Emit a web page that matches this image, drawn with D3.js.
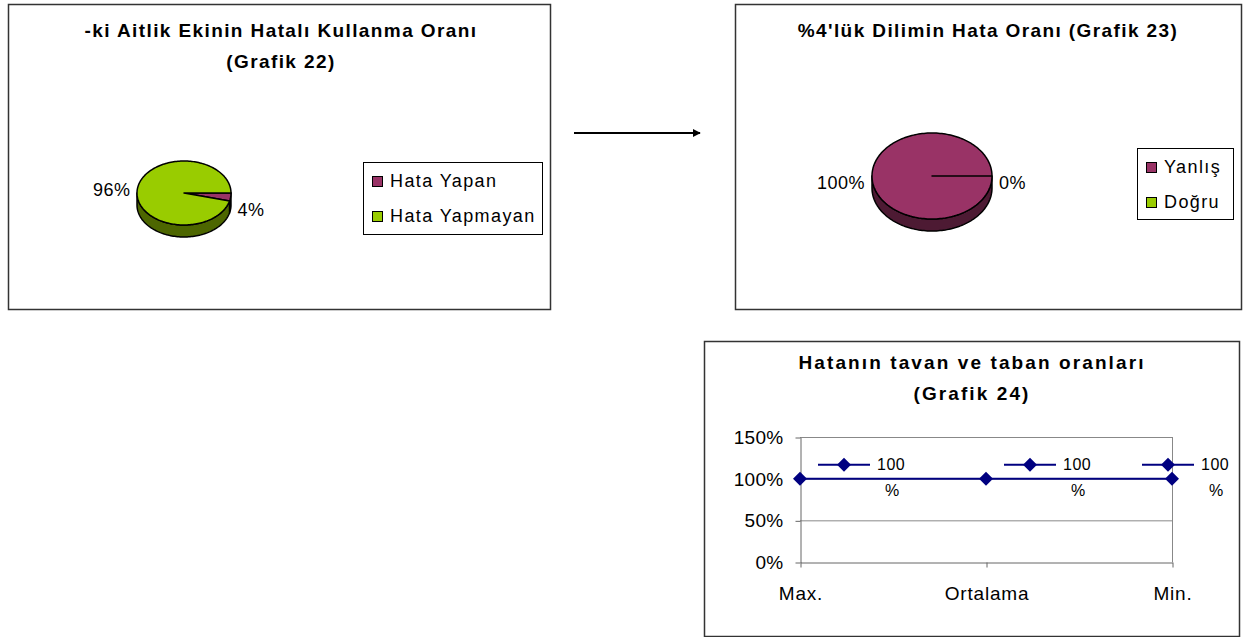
<!DOCTYPE html>
<html>
<head>
<meta charset="utf-8">
<script src="https://cdn.jsdelivr.net/npm/d3@7"></script>
<style>
body { margin: 0; background: #fff; }
svg { display: block; font-family: "Liberation Sans", Arial, sans-serif; }
.title { font-weight: bold; font-size: 19px; text-anchor: middle; }
</style>
</head>
<body>
<script>
// Grafik 22
var pie1Labels = ['Hata Yapan', 'Hata Yapmayan'];
var pie1Values = [4, 96];
// Grafik 23
var pie2Labels = ['Yanlış', 'Doğru'];
var pie2Values = [100, 0];
// Grafik 24
var lineCategories = ['Max.', 'Ortalama', 'Min.'];
var lineValues = [1, 1, 1];
var yTicks = [0, 0.5, 1, 1.5];

var topColors = ['#993366', '#99cc00'];
var sideColors = ['#4d1a33', '#4d6600'];

var svg = d3.select('body').append('svg')
    .attr('width', 1247)
    .attr('height', 637);

var pct = d3.format('.0%');

function panel(x0, y0, x1, y1) {
    svg.append('rect')
        .attr('x', x0 + 0.5).attr('y', y0 + 0.5)
        .attr('width', x1 - x0).attr('height', y1 - y0)
        .attr('fill', '#fff')
        .attr('stroke', '#333')
        .attr('stroke-width', 1.5);
}

function title(x, y, lines, spacing) {
    lines.forEach(function (t, i) {
        svg.append('text')
            .attr('class', 'title')
            .attr('x', x)
            .attr('y', y + i * 31)
            .attr('dy', '0.35em')
            .style('letter-spacing', spacing + 'px')
            .text(t);
    });
}

function pie3d(o) {
    var g = svg.append('g');
    var arcs = d3.pie().sort(null)
        .startAngle(Math.PI / 2)
        .endAngle(Math.PI / 2 + 2 * Math.PI)(o.values);
    var sum = d3.sum(o.values);

    function pt(t, dy) {
        return [o.cx + o.rx * Math.cos(t), o.cy + o.ry * Math.sin(t) + (dy || 0)];
    }
    function samples(a, b) {
        var n = Math.max(2, Math.ceil((b - a) / 0.03));
        return d3.range(n + 1).map(function (i) { return a + (b - a) * i / n; });
    }
    var line = d3.line();

    // sides (front half only)
    arcs.forEach(function (d, i) {
        var t0 = d.startAngle - Math.PI / 2, t1 = d.endAngle - Math.PI / 2;
        var s0 = Math.max(t0, 0), s1 = Math.min(t1, Math.PI);
        if (s1 <= s0) return;
        var ts = samples(s0, s1);
        var pts = ts.map(function (t) { return pt(t); })
            .concat(ts.slice().reverse().map(function (t) { return pt(t, o.depth); }));
        g.append('path')
            .attr('d', line(pts) + 'Z')
            .attr('fill', sideColors[i])
            .attr('stroke', '#000')
            .attr('stroke-width', 1.5)
            .attr('stroke-linejoin', 'round');
    });

    // tops
    arcs.forEach(function (d, i) {
        var t0 = d.startAngle - Math.PI / 2, t1 = d.endAngle - Math.PI / 2;
        if (t1 <= t0) return;
        var pts = [[o.cx, o.cy]].concat(samples(t0, t1).map(function (t) { return pt(t); }));
        g.append('path')
            .attr('d', line(pts) + 'Z')
            .attr('fill', topColors[i])
            .attr('stroke', '#000')
            .attr('stroke-width', 1.5)
            .attr('stroke-linejoin', 'round');
    });

    // percentage labels
    arcs.forEach(function (d, i) {
        var t = (d.startAngle + d.endAngle) / 2 - Math.PI / 2;
        var right = Math.cos(t) >= 0;
        g.append('text')
            .attr('x', o.cx + Math.cos(t) * (o.rx + 7))
            .attr('y', o.cy + Math.sin(t) * o.ry * 2.5 + 7)
            .attr('dy', '0.35em')
            .attr('text-anchor', right ? 'start' : 'end')
            .style('font-size', '18px')
            .style('letter-spacing', '0.5px')
            .text(pct(d.data / sum));
    });

    // legend
    var lg = svg.append('g');
    lg.append('rect')
        .attr('x', o.legend.x + 0.5).attr('y', o.legend.y + 0.5)
        .attr('width', o.legend.w).attr('height', o.legend.h)
        .attr('fill', '#fff').attr('stroke', '#000');
    var item = lg.selectAll('g.item')
        .data(o.labels)
        .enter().append('g')
        .attr('class', 'item')
        .attr('transform', function (d, i) {
            return 'translate(' + (o.legend.x + 9) + ',' + (o.legend.y + 19 + i * 35) + ')';
        });
    item.append('rect')
        .attr('x', 0.5).attr('y', -4.5)
        .attr('width', 10).attr('height', 10)
        .attr('fill', function (d, i) { return topColors[i]; })
        .attr('stroke', '#000');
    item.append('text')
        .attr('x', 18)
        .attr('y', 0)
        .attr('dy', '0.35em')
        .style('font-size', '18px')
        .style('letter-spacing', '1.4px')
        .text(function (d) { return d; });
}

// ---- panel 1
panel(8, 4, 550, 309);
title(281, 30, ['-ki Aitlik Ekinin Hatalı Kullanma Oranı', '(Grafik 22)'], 1.4);
pie3d({
    cx: 184, cy: 193, rx: 47, ry: 32, depth: 12,
    values: pie1Values, labels: pie1Labels,
    legend: { x: 363, y: 162, w: 179, h: 72 }
});

// arrow between panels
var defs = svg.append('defs');
defs.append('marker')
    .attr('id', 'arrow')
    .attr('viewBox', '0 0 10 10')
    .attr('refX', 9).attr('refY', 5)
    .attr('markerWidth', 4).attr('markerHeight', 4)
    .attr('orient', 'auto')
    .append('path')
    .attr('d', 'M0,0L10,5L0,10Z')
    .attr('fill', '#000');
svg.append('line')
    .attr('x1', 574).attr('x2', 700)
    .attr('y1', 133).attr('y2', 133)
    .attr('stroke', '#000')
    .attr('stroke-width', 2)
    .attr('marker-end', 'url(#arrow)');

// ---- panel 2
panel(735, 4, 1241, 309);
title(988, 30, ["%4'lük Dilimin Hata Oranı (Grafik 23)"], 1.4);
pie3d({
    cx: 932, cy: 176, rx: 60, ry: 43, depth: 12,
    values: pie2Values, labels: pie2Labels,
    legend: { x: 1137, y: 148, w: 96, h: 71 }
});

// ---- panel 3 (line chart)
panel(704, 341, 1239, 636);
title(972, 362, ['Hatanın tavan ve taban oranları', '(Grafik 24)'], 2.1);

var x = d3.scalePoint().domain(lineCategories).range([800, 1172]);
var y = d3.scaleLinear().domain([0, 1.5]).range([562, 437]);
var lc = svg.append('g');

lc.selectAll('line.grid')
    .data(yTicks.filter(function (t) { return t > 0; }))
    .enter().append('line')
    .attr('class', 'grid')
    .attr('x1', 800).attr('x2', 1172)
    .attr('y1', function (d) { return y(d) + 0.5; })
    .attr('y2', function (d) { return y(d) + 0.5; })
    .attr('stroke', '#888');
lc.append('line')
    .attr('x1', 1172.5).attr('x2', 1172.5)
    .attr('y1', 437).attr('y2', 562)
    .attr('stroke', '#888');

lc.append('g')
    .attr('transform', 'translate(800.5,0.5)')
    .call(d3.axisLeft(y).tickValues(yTicks).tickFormat(pct).tickSize(5).tickSizeOuter(0))
    .call(function (a) {
        a.select('.domain').attr('stroke', '#666');
        a.selectAll('.tick line').attr('stroke', '#666');
        a.selectAll('.tick text')
            .attr('x', -17)
            .attr('fill', '#000')
            .style('font-size', '19px')
            .style('font-family', '"Liberation Sans", Arial, sans-serif')
            .style('letter-spacing', '0.3px');
    });

lc.append('g')
    .attr('transform', 'translate(0.5,562.5)')
    .call(d3.axisBottom(x).tickSize(5).tickSizeOuter(0))
    .call(function (a) {
        a.select('.domain').attr('stroke', '#666');
        a.selectAll('.tick line').attr('stroke', '#666');
        a.selectAll('.tick text')
            .attr('y', 24)
            .attr('fill', '#000')
            .style('font-size', '19px')
            .style('font-family', '"Liberation Sans", Arial, sans-serif')
            .style('letter-spacing', '0.8px');
    });

lc.append('path')
    .datum(lineValues)
    .attr('fill', 'none')
    .attr('stroke', '#000080')
    .attr('stroke-width', 2)
    .attr('d', d3.line()
        .x(function (d, i) { return x(lineCategories[i]); })
        .y(function (d) { return y(d); }));

var diamond = 'M0,-7L7,0L0,7L-7,0Z';
lc.selectAll('path.pt')
    .data(lineValues)
    .enter().append('path')
    .attr('class', 'pt')
    .attr('d', diamond)
    .attr('fill', '#000080')
    .attr('transform', function (d, i) { return 'translate(' + x(lineCategories[i]) + ',' + y(d) + ')'; });

// data labels with legend key
var lab = lc.selectAll('g.lab')
    .data(lineValues)
    .enter().append('g')
    .attr('class', 'lab')
    .attr('transform', function (d, i) {
        var dx = i === lineValues.length - 1 ? -4 : 44;
        return 'translate(' + (x(lineCategories[i]) + dx) + ',' + (y(d) - 14) + ')';
    });
lab.append('line')
    .attr('x1', -26).attr('x2', 26)
    .attr('stroke', '#000080').attr('stroke-width', 2);
lab.append('path')
    .attr('d', diamond)
    .attr('fill', '#000080');
lab.append('text')
    .attr('x', 33)
    .attr('dy', '0.35em')
    .style('font-size', '16px')
    .style('letter-spacing', '0.5px')
    .text(function (d) { return pct(d).slice(0, -1); });
lab.append('text')
    .attr('x', 48)
    .attr('y', 26)
    .attr('dy', '0.35em')
    .attr('text-anchor', 'middle')
    .style('font-size', '16px')
    .text('%');
</script>
</body>
</html>
